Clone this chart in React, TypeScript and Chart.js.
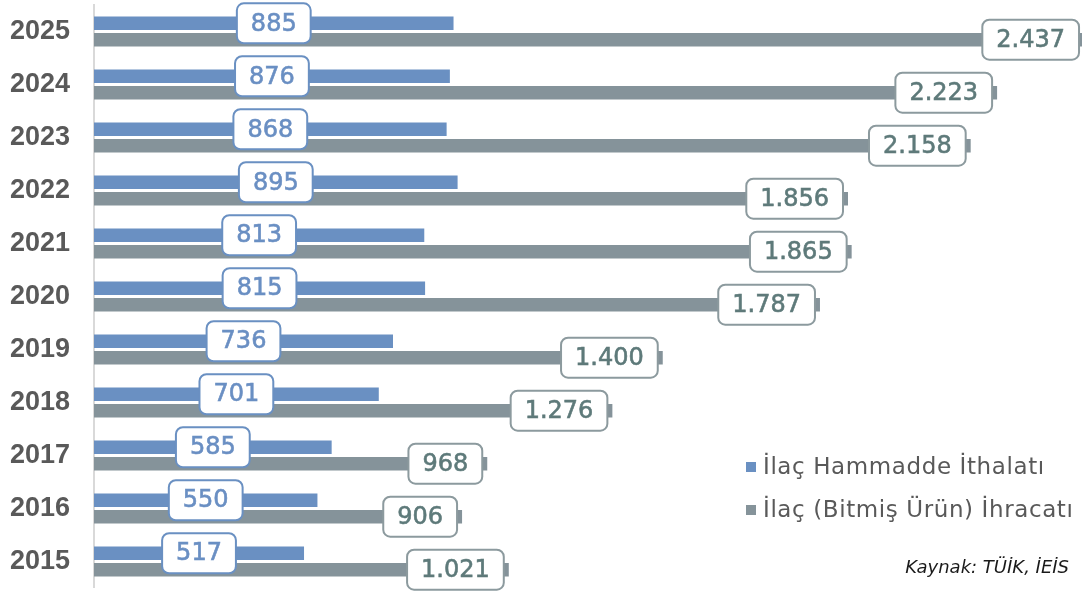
import React, { useEffect, useRef } from "react";
import { Chart, registerables } from "chart.js";

Chart.register(...registerables);

const years = ["2025", "2024", "2023", "2022", "2021", "2020", "2019", "2018", "2017", "2016", "2015"];
const hammaddeIthalat = [885, 876, 868, 895, 813, 815, 736, 701, 585, 550, 517];
const bitmisIhracat = [2437, 2223, 2158, 1856, 1865, 1787, 1400, 1276, 968, 906, 1021];
const seriesNames = ["İlaç Hammadde İthalatı", "İlaç (Bitmiş Ürün) İhracatı"];
const sourceNote = "Kaynak: TÜİK, İEİS";

const BLUE = "#6A90C2";
const GRAY = "#85939A";
const BLUE_TEXT = "#6A8FC3";
const GRAY_TEXT = "#5E7A7A";
const GRAY_BORDER = "#8C9A9E";

const fmt = (v: number) => String(v).replace(/\B(?=(\d{3})+(?!\d))/g, ".");

const labelPlugin = {
  id: "boxLabels",
  afterDatasetsDraw(chart: any) {
    const ctx = chart.ctx as CanvasRenderingContext2D;
    ctx.save();
    ctx.font = "24px 'DejaVu Sans'";
    ctx.textBaseline = "middle";
    ctx.textAlign = "center";
    chart.data.datasets.forEach((ds: any, di: number) => {
      const meta = chart.getDatasetMeta(di);
      meta.data.forEach((el: any, i: number) => {
        const text = fmt(ds.data[i]);
        const tw = ctx.measureText(text).width;
        const w = tw + 28;
        const h = 40;
        let cx: number;
        if (di === 0) {
          cx = (el.x + el.base) / 2;
        } else {
          cx = el.x - 5 - w / 2;
        }
        const cy = el.y;
        ctx.beginPath();
        (ctx as any).roundRect(cx - w / 2, cy - h / 2, w, h, 7);
        ctx.fillStyle = "#ffffff";
        ctx.fill();
        ctx.lineWidth = 2;
        ctx.strokeStyle = di === 0 ? BLUE : GRAY_BORDER;
        ctx.stroke();
        const tc = di === 0 ? BLUE_TEXT : GRAY_TEXT;
        ctx.fillStyle = tc;
        ctx.fillText(text, cx, cy + 1);
        ctx.lineWidth = 0.6;
        ctx.strokeStyle = tc;
        ctx.strokeText(text, cx, cy + 1);
      });
    });
    ctx.restore();
  },
  afterDraw(chart: any) {
    const ctx = chart.ctx as CanvasRenderingContext2D;
    ctx.save();
    const rows = [
      { y: 467, color: BLUE, text: seriesNames[0] },
      { y: 510, color: GRAY, text: seriesNames[1] },
    ];
    ctx.font = "23px 'DejaVu Sans'";
    (ctx as any).letterSpacing = "0.6px";
    ctx.textBaseline = "middle";
    ctx.textAlign = "left";
    rows.forEach((r) => {
      ctx.fillStyle = r.color;
      ctx.fillRect(746, r.y - 5, 10, 10);
      ctx.fillStyle = "#595959";
      ctx.fillText(r.text, 763, r.y + 1);
    });
    (ctx as any).letterSpacing = "0px";
    ctx.font = "italic 18px 'DejaVu Sans'";
    ctx.textAlign = "right";
    ctx.fillStyle = "#1a1a1a";
    ctx.fillText(sourceNote, 1069, 568);
    ctx.restore();
  },
};

export default function App() {
  const ref = useRef<HTMLCanvasElement | null>(null);
  useEffect(() => {
    if (!ref.current) return;
    const chart = new Chart(ref.current, {
      type: "bar",
      data: {
        labels: years,
        datasets: [
          {
            label: seriesNames[0],
            data: hammaddeIthalat,
            backgroundColor: BLUE,
            categoryPercentage: 0.62,
            barPercentage: 0.82,
          },
          {
            label: seriesNames[1],
            data: bitmisIhracat,
            backgroundColor: GRAY,
            categoryPercentage: 0.62,
            barPercentage: 0.82,
          },
        ],
      },
      options: {
        indexAxis: "y",
        animation: false,
        responsive: false,
        layout: { padding: { top: 5, bottom: 2, left: 0, right: 0 } },
        plugins: {
          legend: { display: false },
          tooltip: { enabled: false },
        },
        scales: {
          x: {
            display: false,
            min: 0,
            max: 2432,
          },
          y: {
            grid: { display: false, drawTicks: true, tickLength: 24 },
            border: { display: true, color: "#D9D9D9", width: 2 },
            ticks: {
              padding: 0,
              color: "#595959",
              font: { family: "'Liberation Sans'", weight: "bold", size: 27, lineHeight: 0.3 },
            },
            afterFit(scale: any) {
              scale.width = 94;
            },
          },
        },
      },
      plugins: [labelPlugin],
    } as any);
    return () => chart.destroy();
  }, []);
  return (
    <div style={{ position: "absolute", left: 0, top: 0, width: 1082, height: 592, background: "#fff" }}>
      <canvas ref={ref} width={1082} height={592} />
    </div>
  );
}
